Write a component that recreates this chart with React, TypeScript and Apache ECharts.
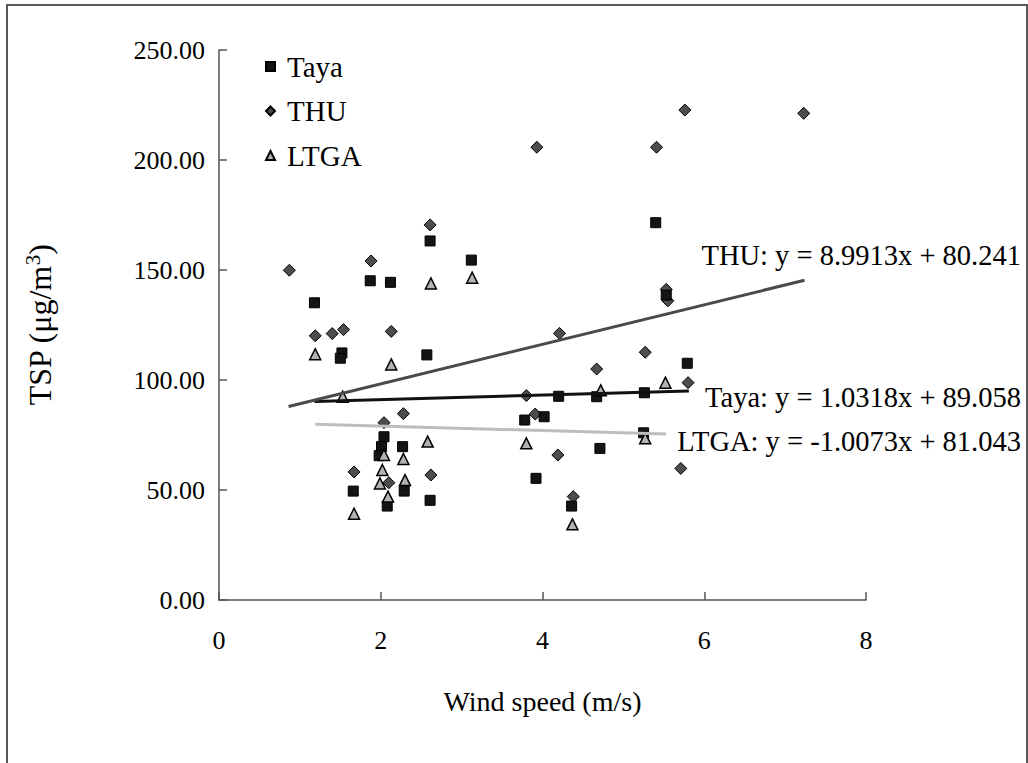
import React, { useEffect, useRef } from "react";
import * as echarts from "echarts";

const seriesNames = ["Taya", "THU", "LTGA"];

const tayaPoints: [number, number][] = [
  [1.18, 135.1], [1.52, 112.3], [1.5, 109.9], [1.87, 145.1], [2.12, 144.4],
  [2.57, 111.4], [2.61, 163.2], [3.12, 154.5], [2.04, 74.2], [2.01, 69.7],
  [1.98, 65.6], [2.27, 69.7], [2.29, 49.5], [1.66, 49.5], [2.08, 42.7],
  [2.61, 45.3], [5.4, 171.5], [5.53, 138.6], [5.79, 107.6], [4.2, 92.6],
  [4.67, 92.4], [5.26, 94.2], [3.78, 81.8], [4.02, 83.3], [4.71, 68.9],
  [5.25, 76.0], [3.92, 55.3], [4.36, 42.7],
];

const thuPoints: [number, number][] = [
  [0.87, 149.9], [1.88, 154.1], [2.61, 170.5], [1.19, 120.1], [1.4, 121.1],
  [1.54, 122.9], [2.13, 122.1], [2.28, 84.7], [2.04, 80.6], [1.67, 58.2],
  [2.1, 53.3], [2.62, 56.8], [3.93, 205.8], [5.76, 222.7], [7.23, 221.2],
  [5.41, 205.8], [5.53, 141.2], [5.55, 136.0], [4.21, 121.2], [5.27, 112.6],
  [4.67, 105.0], [5.8, 98.8], [3.8, 92.9], [3.91, 84.5], [4.19, 65.9],
  [5.71, 59.8], [4.38, 47.0],
];

const ltgaPoints: [number, number][] = [
  [3.13, 146.5], [2.62, 143.9], [1.19, 111.7], [2.13, 107.1], [1.53, 92.4],
  [2.04, 65.9], [2.58, 72.0], [2.28, 64.1], [2.02, 59.1], [1.99, 53.0],
  [2.3, 54.5], [2.09, 47.0], [1.67, 39.2], [5.52, 98.8], [4.72, 95.3],
  [3.8, 71.2], [5.27, 73.5], [4.37, 34.4],
];

// Trend line equations shown on the chart: slope, intercept, x-range
const trendSlopes = [1.0318, 8.9913, -1.0073];
const trendIntercepts = [89.058, 80.241, 81.043];
const trendRanges: [number, number][] = [[1.18, 5.81], [0.86, 7.24], [1.19, 5.53]];
const trendLabels = [
  "Taya: y = 1.0318x + 89.058",
  "THU: y = 8.9913x + 80.241",
  "LTGA: y = -1.0073x + 81.043",
];

const xTicks = [0, 2, 4, 6, 8];
const yTicks = [0, 50, 100, 150, 200, 250];

const FONT = "'Liberation Serif', 'Times New Roman', serif";

export default function App() {
  const ref = useRef<HTMLDivElement>(null);
  useEffect(() => {
    if (!ref.current) return;
    const chart = echarts.init(ref.current, null, { renderer: "svg" });

    const trendData = trendSlopes.map((m, i) =>
      trendRanges[i].map((x) => [x, m * x + trendIntercepts[i]])
    );

    const lineColors = ["#111111", "#4a4a4a", "#bdbdbd"];

    chart.setOption({
      animation: false,
      backgroundColor: "#ffffff",
      grid: { left: 219, top: 50, width: 647, height: 550, containLabel: false },
      xAxis: {
        type: "value",
        min: xTicks[0],
        max: xTicks[xTicks.length - 1],
        interval: 2,
        name: "Wind speed (m/s)",
        nameLocation: "middle",
        nameGap: 87,
        nameTextStyle: { fontFamily: FONT, fontSize: 28, color: "#000" },
        axisLine: { lineStyle: { color: "#555", width: 1.5 } },
        axisTick: { inside: true, length: 8, lineStyle: { color: "#555", width: 1.5 } },
        axisLabel: { fontFamily: FONT, fontSize: 26, color: "#000", margin: 27 },
        splitLine: { show: false },
      },
      yAxis: {
        type: "value",
        min: yTicks[0],
        max: yTicks[yTicks.length - 1],
        interval: 50,
        name: "TSP (μg/m{sup|3})",
        nameLocation: "middle",
        nameGap: 162,
        nameTextStyle: {
          fontFamily: FONT,
          fontSize: 32,
          color: "#000",
          rich: {
            sup: { fontFamily: FONT, fontSize: 21, color: "#000", padding: [0, 0, 14, 0] },
          },
        },
        axisLine: { show: true, lineStyle: { color: "#555", width: 1.5 } },
        axisTick: { show: true, inside: true, length: 8, lineStyle: { color: "#555", width: 1.5 } },
        axisLabel: {
          fontFamily: FONT,
          fontSize: 26,
          color: "#000",
          margin: 14,
          formatter: (v: number) => v.toFixed(2),
        },
        splitLine: { show: false },
      },
      legend: {
        data: [
          { name: "Taya", icon: "rect" },
          { name: "THU", icon: "diamond" },
          { name: "LTGA", icon: "triangle" },
        ],
        orient: "vertical",
        left: 260,
        top: 47,
        itemWidth: 9,
        itemHeight: 9,
        itemGap: 15.5,
        textStyle: { fontFamily: FONT, fontSize: 29, color: "#000", padding: [0, 0, 0, 7] },
      },
      graphic: [
        {
          type: "rect",
          shape: { x: 7, y: 5, width: 1020, height: 800 },
          style: { fill: "none", stroke: "#222", lineWidth: 1.5 },
          silent: true,
        },
        ...trendLabels.map((t, i) => ({
          type: "text",
          x: 1021,
          y: [397, 255, 441][i],
          style: {
            text: t,
            fontFamily: FONT,
            fontSize: 28.5,
            fill: "#000",
            textAlign: "right",
            textVerticalAlign: "middle",
          },
          z: 100,
        })),
      ],
      series: [
        {
          name: "Taya",
          type: "scatter",
          symbol: "rect",
          symbolSize: 10,
          itemStyle: { color: "#141414", borderColor: "#000", borderWidth: 1, opacity: 1 },
          data: tayaPoints,
          z: 3,
        },
        {
          name: "THU",
          type: "scatter",
          symbol: "diamond",
          symbolSize: 12,
          itemStyle: { color: "#4d4d4d", borderColor: "#000", borderWidth: 1, opacity: 1 },
          data: thuPoints,
          z: 2,
        },
        {
          name: "LTGA",
          type: "scatter",
          symbol: "triangle",
          symbolSize: 11,
          itemStyle: { color: "#b3b3b3", borderColor: "#000", borderWidth: 1.5, opacity: 1 },
          data: ltgaPoints,
          z: 4,
        },
        ...trendData.map((d, i) => ({
          name: seriesNames[i] + " trend",
          type: "line",
          data: d,
          showSymbol: false,
          symbol: "none",
          lineStyle: { color: lineColors[i], width: 3 },
          z: 5,
          silent: true,
        })),
      ],
    });
    return () => chart.dispose();
  }, []);
  return (
    <div
      ref={ref}
      style={{ position: "fixed", left: 0, top: 0, width: 1028, height: 763, background: "#fff" }}
    />
  );
}
